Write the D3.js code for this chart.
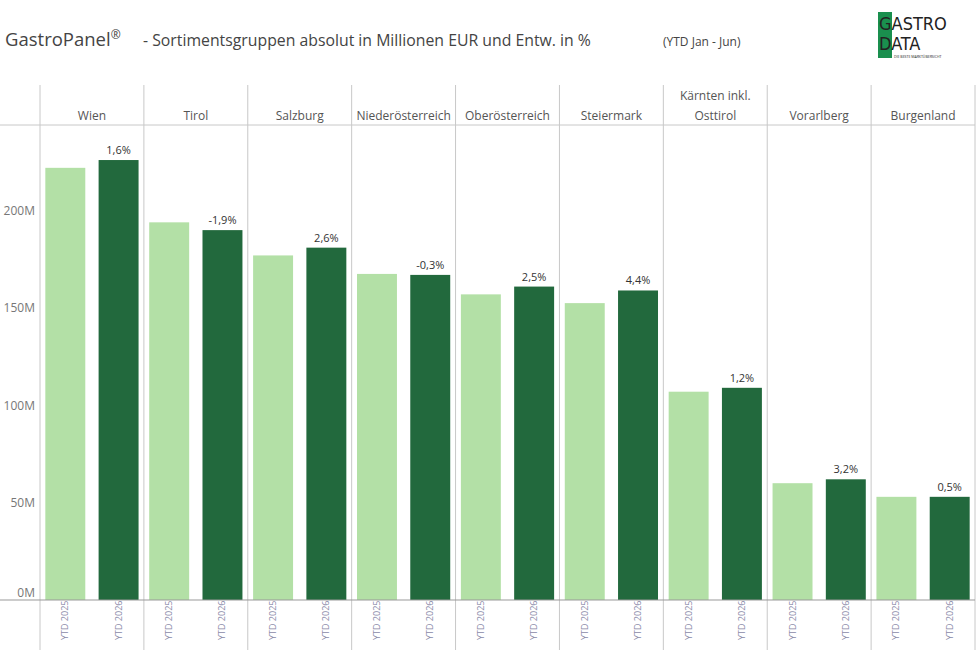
<!DOCTYPE html><html><head><meta charset="utf-8"><script src="https://cdn.jsdelivr.net/npm/d3@7"></script>
<style>body{margin:0;background:#fff;font-family:"Open Sans",sans-serif}</style></head><body><svg id="c" width="978" height="661"></svg>
<script>
const regions=["Wien","Tirol","Salzburg","Niederösterreich","Oberösterreich","Steiermark","Kärnten inkl.|Osttirol","Vorarlberg","Burgenland"];
const years=["YTD 2025","YTD 2026"];
const v2025=[222,194,177,167.5,157,152.5,107,60,53];
const v2026=[226,190,181,167,161,159,109,62,53];
const changes=["1,6%","-1,9%","2,6%","-0,3%","2,5%","4,4%","1,2%","3,2%","0,5%"];
const yTicks=[0,50,100,150,200];
const svg=d3.select("#c");
const L=40,R=975,T=125,B=600;
const x=d3.scaleBand().domain(regions).range([L,R]);
const xi=d3.scaleBand().domain(years).range([0,x.bandwidth()]).paddingInner(0.25).paddingOuter(0.1);
const y=d3.scaleLinear().domain([0,244]).range([B,T]);
const grey="#c8c8c8";
svg.append("text").attr("x",5).attr("y",46).attr("font-size",18.5).attr("fill","#444").text("GastroPanel").append("tspan").attr("font-size",12).attr("dy",-7).text("®");
svg.append("text").attr("x",143).attr("y",46).attr("font-size",15.8).attr("fill","#444").text("- Sortimentsgruppen absolut in Millionen EUR und Entw. in %");
svg.append("text").attr("x",663).attr("y",46).attr("font-size",12).attr("fill","#444").text("(YTD Jan  - Jun)");
// logo
svg.append("rect").attr("x",878).attr("y",12).attr("width",14).attr("height",46).attr("fill","#1a8f4e");
svg.append("text").attr("x",879).attr("y",30).attr("font-size",18).attr("fill","#222").attr("font-family","DejaVu Sans Condensed, sans-serif").text("GASTRO");
svg.append("text").attr("x",879).attr("y",50).attr("font-size",18).attr("fill","#222").attr("font-family","DejaVu Sans Condensed, sans-serif").text("DATA");
svg.append("text").attr("x",894).attr("y",57.5).attr("font-size",3.5).attr("fill","#222").text("DIE BESTE MARKTÜBERSICHT");
// header lines
svg.append("line").attr("x1",0).attr("x2",R).attr("y1",T).attr("y2",T).attr("stroke",grey);
regions.forEach((r,i)=>{
  const x0=x(r);
  svg.append("line").attr("x1",x0).attr("x2",x0).attr("y1",85).attr("y2",650).attr("stroke",grey);
  const parts=r.split("|");
  parts.forEach((p,k)=>svg.append("text").attr("x",x0+x.bandwidth()/2).attr("y",120-(parts.length-1-k)*20).attr("text-anchor","middle").attr("font-size",12).attr("fill","#555").text(p));
  [v2025[i],v2026[i]].forEach((v,j)=>{
    const bx=x0+xi(years[j]);
    svg.append("rect").attr("x",bx).attr("y",y(v)).attr("width",xi.bandwidth()).attr("height",B-y(v)).attr("fill",j?"#22693d":"#b3e0a6");
    svg.append("text").attr("transform",`translate(${bx+xi.bandwidth()/2+3},640) rotate(-90)`).attr("font-size",9).attr("fill","#8a8aa8").text(years[j]);
    if(j) svg.append("text").attr("x",bx+xi.bandwidth()/2).attr("y",y(v)-6).attr("text-anchor","middle").attr("font-size",11).attr("fill","#333").text(changes[i]);
  });
});
svg.append("line").attr("x1",R).attr("x2",R).attr("y1",85).attr("y2",650).attr("stroke",grey);
svg.append("line").attr("x1",0).attr("x2",R).attr("y1",B).attr("y2",B).attr("stroke","#999");
const ya=svg.append("g").attr("transform",`translate(${L},0)`).call(d3.axisLeft(y).tickValues(yTicks).tickSize(0).tickFormat(d=>d+"M"));
ya.select(".domain").remove();
ya.selectAll("text").attr("font-size",12).attr("fill","#777").attr("font-family","Open Sans, sans-serif").attr("dy",d=>d===0?"-0.3em":"0.32em").attr("dx","-2");
</script></body></html>
